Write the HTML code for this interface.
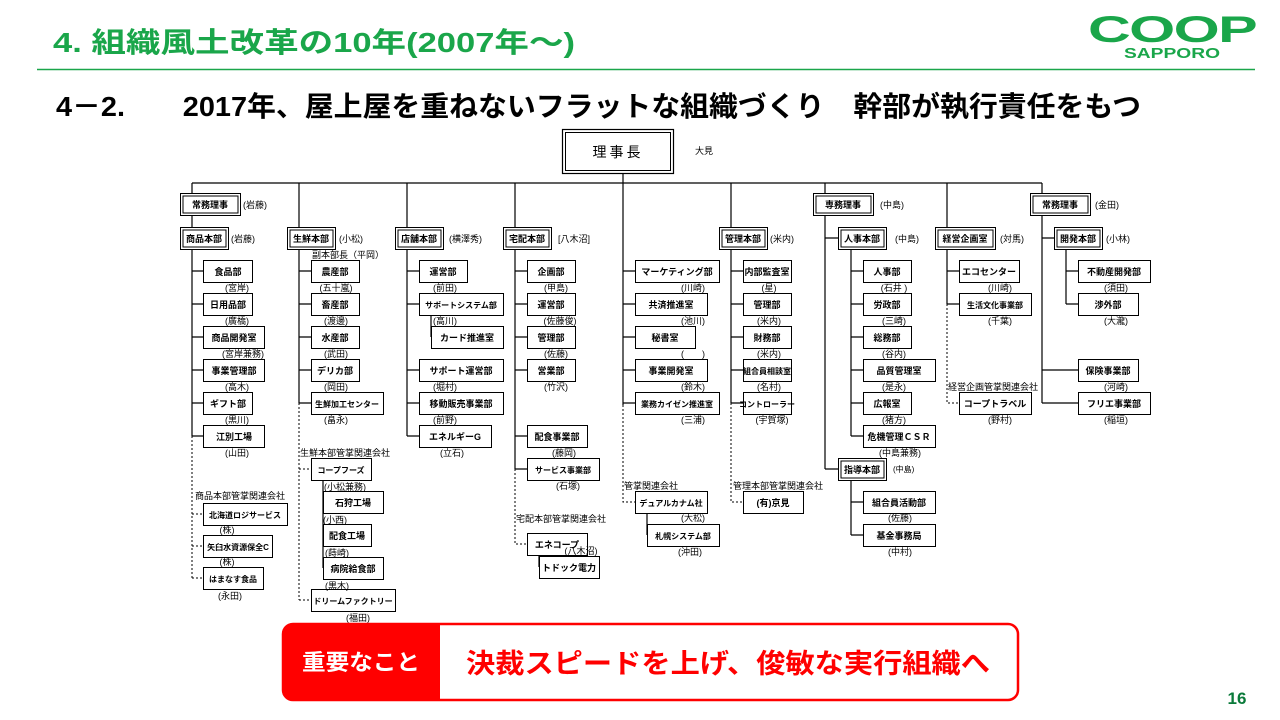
<!DOCTYPE html>
<html><head><meta charset="utf-8"><style>
html,body{margin:0;padding:0;background:#fff;width:1280px;height:720px;overflow:hidden}
svg{display:block}
text{font-family:"Liberation Sans","Noto Sans CJK JP",sans-serif}
.b rect{fill:#fff;stroke:#000;stroke-width:1}
.t{font-size:9px;text-anchor:middle;font-weight:bold}
.n{font-size:9px;text-anchor:middle}
.l{font-size:9px}
.ln{stroke:#000;stroke-width:1.2;fill:none}
.d{stroke:#000;stroke-width:1;stroke-dasharray:2,2;fill:none}
</style></head><body>
<svg width="1280" height="720" viewBox="0 0 1280 720" xmlns="http://www.w3.org/2000/svg">
<text x="53" y="52" font-size="28" font-weight="bold" fill="#1aa64a" textLength="522" lengthAdjust="spacingAndGlyphs">4. 組織風土改革の10年(2007年～)</text>
<line x1="37" y1="69.5" x2="1255" y2="69.5" stroke="#1aa64a" stroke-width="1.5"/>
<text x="1172" y="42" font-size="37" font-weight="bold" fill="#1aa64a" text-anchor="middle" letter-spacing="-1" textLength="168" lengthAdjust="spacingAndGlyphs">COOP</text>
<text x="1172" y="58" font-size="15" font-weight="bold" fill="#1aa64a" text-anchor="middle" textLength="96" lengthAdjust="spacingAndGlyphs">SAPPORO</text>
<text x="56" y="116" font-size="28" font-weight="bold" fill="#000" textLength="1085" lengthAdjust="spacingAndGlyphs">4－2.　　2017年、屋上屋を重ねないフラットな組織づくり　幹部が執行責任をもつ</text>

<g class="ln">
<line x1="192" y1="183" x2="1042" y2="183"/>
<line x1="623" y1="173" x2="623" y2="405"/>
<line x1="192" y1="183" x2="192" y2="193"/><line x1="192" y1="215" x2="192" y2="227"/>
<line x1="192" y1="249" x2="192" y2="436"/>
<line x1="299" y1="183" x2="299" y2="227"/><line x1="299" y1="249" x2="299" y2="403"/>
<line x1="407" y1="183" x2="407" y2="227"/><line x1="407" y1="249" x2="407" y2="436"/>
<line x1="515" y1="183" x2="515" y2="227"/><line x1="515" y1="249" x2="515" y2="469"/>
<line x1="731" y1="183" x2="731" y2="227"/><line x1="731" y1="249" x2="731" y2="403"/>
<line x1="825" y1="183" x2="825" y2="193"/><line x1="825" y1="215" x2="825" y2="469"/>
<line x1="947" y1="183" x2="947" y2="227"/><line x1="947" y1="249" x2="947" y2="304"/>
<line x1="1042" y1="183" x2="1042" y2="193"/><line x1="1042" y1="215" x2="1042" y2="403"/>
<line x1="851" y1="249" x2="851" y2="436"/><line x1="851" y1="480" x2="851" y2="535"/>
<line x1="1066" y1="249" x2="1066" y2="304"/>
<path d="M192 271H203M192 304H203M192 337H203M192 370H203M192 403H203M192 436H203"/>
<path d="M299 271H311M299 304H311M299 337H311M299 370H311M299 403H311"/>
<path d="M407 271H419M407 304H419M407 370H419M407 403H419M407 436H419M431 315V337"/>
<path d="M515 271H527M515 304H527M515 337H527M515 370H527M515 436H527M515 469H527M539 555V567"/>
<path d="M623 271H635M623 304H635M623 337H635M623 370H635M623 403H635M647 513V535"/>
<path d="M731 271H743M731 304H743M731 337H743M731 370H743M731 403H743"/>
<path d="M825 238H838M825 469H838M851 271H863M851 304H863M851 337H863M851 370H863M851 403H863M851 436H863M851 502H863M851 535H863"/>
<path d="M947 271H959M947 304H959"/>
<path d="M1042 238H1054M1066 271H1078M1066 304H1078M1042 370H1078M1042 403H1078"/>
<path d="M323 480V568"/>
</g>
<g class="d">
<path d="M192 436V578M192 514H203M192 546H203M192 578H203"/>
<path d="M299 403V600M299 469H311M299 600H311"/>
<path d="M515 469V544H527"/>
<path d="M623 405V502H635"/>
<path d="M731 403V502H743"/>
<path d="M947 304V403H959"/>
</g>

<g fill="#fff" stroke="#000">
<rect x="562.5" y="129.5" width="111" height="44" stroke-width="1.2"/><rect x="565.5" y="132.5" width="105" height="38"/>
<rect x="180.5" y="193.5" width="60" height="22"/><rect x="183" y="196" width="55" height="17"/>
<rect x="813.5" y="193.5" width="60" height="22"/><rect x="816" y="196" width="55" height="17"/>
<rect x="1030.5" y="193.5" width="60" height="22"/><rect x="1033" y="196" width="55" height="17"/>
<rect x="180.5" y="227.5" width="48" height="22"/><rect x="183" y="230" width="43" height="17"/>
<rect x="287.5" y="227.5" width="48" height="22"/><rect x="290" y="230" width="43" height="17"/>
<rect x="395.5" y="227.5" width="48" height="22"/><rect x="398" y="230" width="43" height="17"/>
<rect x="503.5" y="227.5" width="48" height="22"/><rect x="506" y="230" width="43" height="17"/>
<rect x="719.5" y="227.5" width="48" height="22"/><rect x="722" y="230" width="43" height="17"/>
<rect x="838.5" y="227.5" width="48" height="22"/><rect x="841" y="230" width="43" height="17"/>
<rect x="935.5" y="227.5" width="60" height="22"/><rect x="938" y="230" width="55" height="17"/>
<rect x="1054.5" y="227.5" width="48" height="22"/><rect x="1057" y="230" width="43" height="17"/>
<rect x="838.5" y="458.5" width="48" height="22"/><rect x="841" y="461" width="43" height="17"/>
</g>
<text x="618" y="157" font-size="14" text-anchor="middle" letter-spacing="3">理事長</text>
<text x="695" y="154" class="l">大見</text>
<g class="t">
<text x="210" y="208">常務理事</text><text x="843" y="208">専務理事</text><text x="1060" y="208">常務理事</text>
<text x="204" y="242">商品本部</text><text x="311" y="242">生鮮本部</text><text x="419" y="242">店舗本部</text>
<text x="527" y="242">宅配本部</text><text x="743" y="242">管理本部</text><text x="862" y="242">人事本部</text>
<text x="965" y="242">経営企画室</text><text x="1078" y="242">開発本部</text><text x="862" y="473">指導本部</text>
</g>
<g class="l">
<text x="243" y="208">(岩藤)</text><text x="880" y="208">(中島)</text><text x="1095" y="208">(金田)</text>
<text x="231" y="242">(岩藤)</text><text x="339" y="242">(小松)</text><text x="449" y="242">(横澤秀)</text>
<text x="558" y="242">[八木沼]</text><text x="770" y="242">(米内)</text><text x="895" y="242">(中島)</text>
<text x="1000" y="242">(対馬)</text><text x="1106" y="242">(小林)</text><text x="893" y="472" font-size="8">(中島)</text>
<text x="312" y="258">副本部長（平岡）</text>
<text x="195" y="499">商品本部管掌関連会社</text>
<text x="300" y="456">生鮮本部管掌関連会社</text>
<text x="516" y="522">宅配本部管掌関連会社</text>
<text x="624" y="489">管掌関連会社</text>
<text x="733" y="489">管理本部管掌関連会社</text>
<text x="948" y="390">経営企画管掌関連会社</text>
</g>

<g class="b">
<rect x="203.5" y="260.5" width="49" height="22"/><rect x="203.5" y="293.5" width="49" height="22"/><rect x="203.5" y="326.5" width="61" height="22"/><rect x="203.5" y="359.5" width="61" height="22"/><rect x="203.5" y="392.5" width="49" height="22"/><rect x="203.5" y="425.5" width="61" height="22"/>
<rect x="203.5" y="503.5" width="84" height="22"/><rect x="203.5" y="535.5" width="69" height="22"/><rect x="203.5" y="567.5" width="60" height="22"/>
<rect x="311.5" y="260.5" width="48" height="22"/><rect x="311.5" y="293.5" width="48" height="22"/><rect x="311.5" y="326.5" width="48" height="22"/><rect x="311.5" y="359.5" width="48" height="22"/><rect x="311.5" y="392.5" width="72" height="22"/>
<rect x="311.5" y="458.5" width="60" height="22"/><rect x="323.5" y="491.5" width="60" height="22"/><rect x="323.5" y="524.5" width="48" height="22"/><rect x="323.5" y="557.5" width="60" height="22"/><rect x="311.5" y="589.5" width="84" height="22"/>
<rect x="419.5" y="260.5" width="48" height="22"/><rect x="419.5" y="293.5" width="84" height="22"/><rect x="431.5" y="326.5" width="72" height="22"/><rect x="419.5" y="359.5" width="84" height="22"/><rect x="419.5" y="392.5" width="84" height="22"/><rect x="419.5" y="425.5" width="72" height="22"/>
<rect x="527.5" y="260.5" width="48" height="22"/><rect x="527.5" y="293.5" width="48" height="22"/><rect x="527.5" y="326.5" width="48" height="22"/><rect x="527.5" y="359.5" width="48" height="22"/><rect x="527.5" y="425.5" width="60" height="22"/><rect x="527.5" y="458.5" width="72" height="22"/><rect x="527.5" y="533.5" width="60" height="22"/><rect x="539.5" y="556.5" width="60" height="22"/>
<rect x="635.5" y="260.5" width="84" height="22"/><rect x="635.5" y="293.5" width="72" height="22"/><rect x="635.5" y="326.5" width="60" height="22"/><rect x="635.5" y="359.5" width="72" height="22"/><rect x="635.5" y="392.5" width="84" height="22"/><rect x="635.5" y="491.5" width="72" height="22"/><rect x="647.5" y="524.5" width="72" height="22"/>
<rect x="743.5" y="260.5" width="48" height="22"/><rect x="743.5" y="293.5" width="48" height="22"/><rect x="743.5" y="326.5" width="48" height="22"/><rect x="743.5" y="359.5" width="48" height="22"/><rect x="743.5" y="392.5" width="48" height="22"/><rect x="743.5" y="491.5" width="60" height="22"/>
<rect x="863.5" y="260.5" width="48" height="22"/><rect x="863.5" y="293.5" width="48" height="22"/><rect x="863.5" y="326.5" width="48" height="22"/><rect x="863.5" y="359.5" width="72" height="22"/><rect x="863.5" y="392.5" width="48" height="22"/><rect x="863.5" y="425.5" width="72" height="22"/><rect x="863.5" y="491.5" width="72" height="22"/><rect x="863.5" y="524.5" width="72" height="22"/>
<rect x="959.5" y="260.5" width="60" height="22"/><rect x="959.5" y="293.5" width="72" height="22"/><rect x="959.5" y="392.5" width="72" height="22"/>
<rect x="1078.5" y="260.5" width="72" height="22"/><rect x="1078.5" y="293.5" width="60" height="22"/><rect x="1078.5" y="359.5" width="60" height="22"/><rect x="1078.5" y="392.5" width="72" height="22"/>
</g>
<g class="t">
<text x="228" y="275">食品部</text><text x="228" y="308">日用品部</text><text x="234" y="341">商品開発室</text><text x="234" y="374">事業管理部</text><text x="228" y="407">ギフト部</text><text x="234" y="440">江別工場</text>
<text x="245" y="518" font-size="8">北海道ロジサービス</text><text x="238" y="550" font-size="8">矢臼水資源保全C</text><text x="233" y="582" font-size="8">はまなす食品</text>
<text x="335" y="275">農産部</text><text x="335" y="308">畜産部</text><text x="335" y="341">水産部</text><text x="335" y="374">デリカ部</text><text x="347" y="407" font-size="8">生鮮加工センター</text>
<text x="341" y="473" font-size="8">コープフーズ</text><text x="353" y="506">石狩工場</text><text x="347" y="539">配食工場</text><text x="353" y="572">病院給食部</text><text x="353" y="604" font-size="8">ドリームファクトリー</text>
<text x="443" y="275">運営部</text><text x="461" y="308" font-size="8">サポートシステム部</text><text x="467" y="341">カード推進室</text><text x="461" y="374">サポート運営部</text><text x="461" y="407">移動販売事業部</text><text x="455" y="440">エネルギーG</text>
<text x="551" y="275">企画部</text><text x="551" y="308">運営部</text><text x="551" y="341">管理部</text><text x="551" y="374">営業部</text><text x="557" y="440">配食事業部</text><text x="563" y="473" font-size="8">サービス事業部</text><text x="557" y="548">エネコープ</text><text x="569" y="571">トドック電力</text>
<text x="677" y="275">マーケティング部</text><text x="671" y="308">共済推進室</text><text x="665" y="341">秘書室</text><text x="671" y="374">事業開発室</text><text x="677" y="407" font-size="8">業務カイゼン推進室</text><text x="671" y="506" font-size="8">デュアルカナム社</text><text x="683" y="539" font-size="8">札幌システム部</text>
<text x="767" y="275">内部監査室</text><text x="767" y="308">管理部</text><text x="767" y="341">財務部</text><text x="767" y="374" font-size="8">組合員相談室</text><text x="767" y="407" font-size="8">コントローラー</text><text x="773" y="506">(有)京見</text>
<text x="887" y="275">人事部</text><text x="887" y="308">労政部</text><text x="887" y="341">総務部</text><text x="899" y="374">品質管理室</text><text x="887" y="407">広報室</text><text x="899" y="440">危機管理ＣＳＲ</text><text x="899" y="506">組合員活動部</text><text x="899" y="539">基金事務局</text>
<text x="989" y="275">エコセンター</text><text x="995" y="308" font-size="8">生活文化事業部</text><text x="995" y="407">コープトラベル</text>
<text x="1114" y="275">不動産開発部</text><text x="1108" y="308">渉外部</text><text x="1108" y="374">保険事業部</text><text x="1114" y="407">フリエ事業部</text>
</g>
<g class="n">
<text x="237" y="291">(宮岸)</text><text x="237" y="324">(廣橋)</text><text x="243" y="357">(宮岸兼務)</text><text x="237" y="390">(高木)</text><text x="237" y="423">(黒川)</text><text x="237" y="456">(山田)</text>
<text x="227" y="533">(株)</text><text x="227" y="565">(株)</text><text x="230" y="599">(永田)</text>
<text x="336" y="291">(五十嵐)</text><text x="336" y="324">(渡邊)</text><text x="336" y="357">(武田)</text><text x="336" y="390">(岡田)</text><text x="336" y="423">(畠永)</text>
<text x="345" y="490">(小松兼務)</text><text x="335" y="523">(小西)</text><text x="337" y="556">(蒔崎)</text><text x="337" y="589">(黒木)</text><text x="358" y="621">(福田)</text>
<text x="445" y="291">(前田)</text><text x="445" y="324">(高川)</text><text x="445" y="390">(堀村)</text><text x="445" y="423">(前野)</text><text x="452" y="456">(立石)</text>
<text x="556" y="291">(甲島)</text><text x="560" y="324">(佐藤俊)</text><text x="556" y="357">(佐藤)</text><text x="556" y="390">(竹沢)</text><text x="564" y="456">(藤岡)</text><text x="568" y="489">(石塚)</text><text x="581" y="554">(八木沼)</text>
<text x="693" y="291">(川崎)</text><text x="693" y="324">(池川)</text><text x="693" y="357">(　　)</text><text x="693" y="390">(鈴木)</text><text x="693" y="423">(三浦)</text><text x="693" y="521">(大松)</text><text x="690" y="555">(沖田)</text>
<text x="769" y="291">(星)</text><text x="769" y="324">(米内)</text><text x="769" y="357">(米内)</text><text x="769" y="390">(名村)</text><text x="772" y="423">(宇賀塚)</text>
<text x="894" y="291">(石井 )</text><text x="894" y="324">(三崎)</text><text x="894" y="357">(谷内)</text><text x="894" y="390">(是永)</text><text x="894" y="423">(猪方)</text><text x="900" y="456">(中島兼務)</text><text x="900" y="521">(佐藤)</text><text x="900" y="555">(中村)</text>
<text x="1000" y="291">(川崎)</text><text x="1000" y="324">(千葉)</text><text x="1000" y="423">(野村)</text>
<text x="1116" y="291">(須田)</text><text x="1116" y="324">(大瀧)</text><text x="1116" y="390">(河崎)</text><text x="1116" y="423">(稲垣)</text>
</g>

<rect x="283" y="624" width="735" height="76" rx="10" fill="#fff" stroke="#ff0000" stroke-width="2.5"/>
<path d="M293 623H440V701H293A11 11 0 0 1 282 690V634A11 11 0 0 1 293 623Z" fill="#ff0000"/>
<text x="302" y="670" font-size="22" font-weight="bold" fill="#fff" textLength="118" lengthAdjust="spacingAndGlyphs">重要なこと</text>
<text x="466" y="673" font-size="27" font-weight="bold" fill="#ff0000" textLength="524" lengthAdjust="spacingAndGlyphs">決裁スピードを上げ、俊敏な実行組織へ</text>
<text x="1237" y="704" font-size="17" font-weight="bold" fill="#0a7a3a" text-anchor="middle">16</text>
</svg>
</body></html>
